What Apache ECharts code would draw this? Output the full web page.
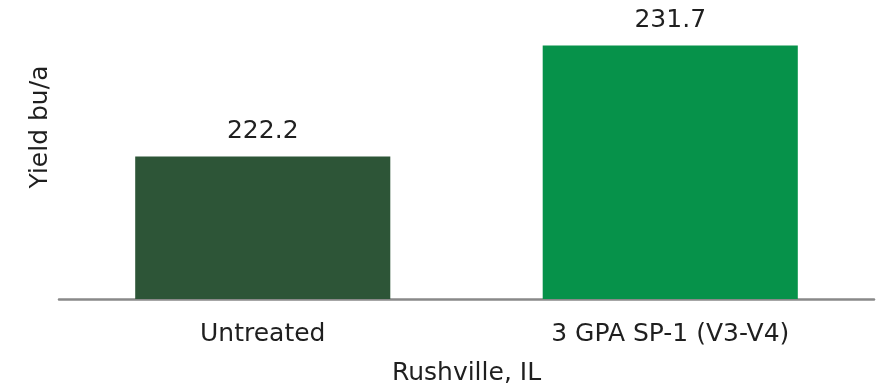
<!DOCTYPE html>
<html>
<head>
<meta charset="utf-8">
<script src="https://cdn.jsdelivr.net/npm/echarts@6/dist/echarts.min.js"></script>
<style>html,body{margin:0;padding:0;background:#fff;}#c{width:881px;height:391px;}</style>
</head>
<body>
<div id="c"></div>
<script>
const categories = ['Untreated', '3 GPA SP-1 (V3-V4)'];
const yields = [222.2, 231.7];
const barColors = ['#2D5537', '#06924A'];
const xTitle = 'Rushville, IL';
const yTitle = 'Yield bu/a';

const FONT = 'DejaVu Sans';
const FS = 25;
const TXT = '#1f1f1f';
const chart = echarts.init(document.getElementById('c'));
chart.setOption({
  animation: false,
  textStyle: { fontFamily: FONT },
  grid: { left: 59, right: 7, top: 7, bottom: 86 },
  xAxis: {
    type: 'category',
    data: categories,
    axisLine: { lineStyle: { color: '#898989', width: 2.5 } },
    axisTick: { show: false },
    axisLabel: { color: TXT, fontSize: FS, fontFamily: FONT, margin: 23 },
    name: xTitle,
    nameLocation: 'middle',
    nameGap: 62,
    nameTextStyle: { color: TXT, fontSize: FS, fontFamily: FONT }
  },
  yAxis: {
    type: 'value',
    min: 210,
    max: 235,
    show: false
  },
  graphic: [{
    type: 'text',
    x: 40, y: 127,
    rotation: Math.PI / 2,
    style: { text: yTitle, fill: TXT, font: FS + 'px "' + FONT + '"', align: 'center', verticalAlign: 'middle' }
  }],
  series: [{
    type: 'bar',
    barWidth: '62.6%',
    data: yields.map((v, i) => ({ value: v, itemStyle: { color: barColors[i] } })),
    label: { show: true, position: 'top', distance: 13, color: TXT, fontSize: FS, fontFamily: FONT, formatter: p => p.value.toFixed(1) }
  }]
});
</script>
</body>
</html>
